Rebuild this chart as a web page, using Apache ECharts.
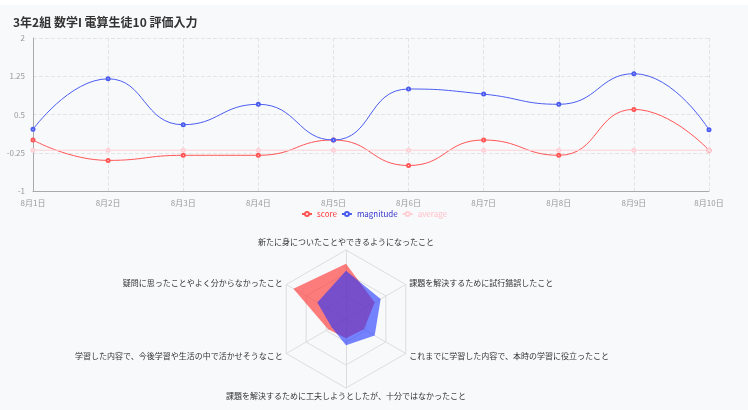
<!DOCTYPE html>
<html><head><meta charset="utf-8">
<script src="https://cdn.jsdelivr.net/npm/echarts@6/dist/echarts.min.js"></script>
<style>html,body{margin:0;padding:0;background:#fff}#main{position:absolute;left:0;top:5px;width:748px;height:405px;background:#f8f9fb}</style>
</head><body><div id="main"></div>
<script>
var days = ["8月1日","8月2日","8月3日","8月4日","8月5日","8月6日","8月7日","8月8日","8月9日","8月10日"];
var score = [0, -0.4, -0.3, -0.3, 0, -0.5, 0, -0.3, 0.6, -0.2];
var magnitude = [0.21, 1.2, 0.3, 0.7, 0, 1.0, 0.9, 0.7, 1.3, 0.2];
var average = [-0.2, -0.2, -0.2, -0.2, -0.2, -0.2, -0.2, -0.2, -0.2, -0.2];
// indicator order as ECharts draws it (counter-clockwise from top)
var radarNames = ["新たに身についたことやできるようになったこと","疑問に思ったことやよく分からなかったこと","学習した内容で、今後学習や生活の中で活かせそうなこと","課題を解決するために工夫しようとしたが、十分ではなかったこと","これまでに学習した内容で、本時の学習に役立ったこと","課題を解決するために試行錯誤したこと"];
var radarRed = [4.0, 4.4, 1.5, 1.4, 1.5, 2.4];
var radarBlue = [3.5, 2.4, 1.2, 1.9, 2.4, 2.9];

var myChart = echarts.init(document.getElementById('main'));
var font = '"Noto Sans CJK JP", sans-serif';
var option = {
    textStyle: {fontFamily: font},
    title: {text: '3年2組 数学I 電算生徒10 評価入力', left: 8, top: 6,
        textStyle: {fontSize: 12, fontWeight: 'bold', color: '#333', fontFamily: font}},
    legend: {top: 200, left: 'center', itemWidth: 10, itemHeight: 5, itemGap: 4,
        textStyle: {fontSize: 8},
        data: [{name: 'score', textStyle: {color: '#f33'}},
               {name: 'magnitude', textStyle: {color: '#33c'}},
               {name: 'average', textStyle: {color: '#ffc0c8'}}]},
    grid: {left: 33, right: 39, top: 33, bottom: 219},
    xAxis: {type: 'category', data: days, boundaryGap: false,
        axisLabel: {fontSize: 8, color: '#999'}, axisTick: {show: false},
        axisLine: {onZero: false, lineStyle: {color: '#aaa'}},
        splitLine: {show: true, lineStyle: {type: 'dashed', color: '#e4e4e4'}}},
    yAxis: {type: 'value', min: -1, max: 2, interval: 0.75,
        axisLabel: {fontSize: 8, color: '#999'},
        axisLine: {show: true, lineStyle: {color: '#aaa'}},
        splitLine: {lineStyle: {type: 'dashed', color: '#e4e4e4'}}},
    radar: {center: [346, 314], radius: 69, splitNumber: 3, axisNameGap: 4,
        indicator: radarNames.map(function (n) { return {name: n, max: 5}; }),
        axisName: {color: '#333', fontSize: 8},
        splitArea: {show: false},
        splitLine: {lineStyle: {color: '#ddd'}},
        axisLine: {lineStyle: {color: '#ddd'}}},
    series: [
        {name: 'score', type: 'line', smooth: true, data: score, symbol: 'emptyCircle', symbolSize: 3,
            itemStyle: {color: '#f55'}, lineStyle: {width: 1}},
        {name: 'magnitude', type: 'line', smooth: true, data: magnitude, symbol: 'emptyCircle', symbolSize: 3,
            itemStyle: {color: '#4a5cf0'}, lineStyle: {width: 1}},
        {name: 'average', type: 'line', data: average, symbol: 'emptyCircle', symbolSize: 3,
            itemStyle: {color: '#ffd0d6'}, lineStyle: {width: 1}},
        {type: 'radar', symbol: 'none', data: [
            {value: radarRed, itemStyle: {color: '#ff4444'}, lineStyle: {width: 0}, areaStyle: {color: 'rgba(255,40,40,0.6)', opacity: 1}},
            {value: radarBlue, itemStyle: {color: '#3050f5'}, lineStyle: {width: 0}, areaStyle: {color: 'rgba(30,50,255,0.6)', opacity: 1}}
        ]}
    ]
};
myChart.setOption(option);
</script></body></html>
